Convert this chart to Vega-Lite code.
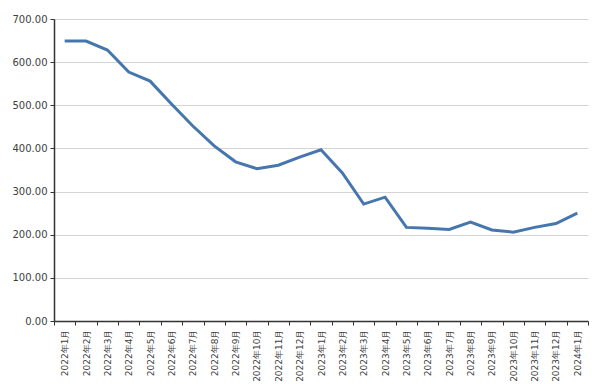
{
  "$schema": "https://vega.github.io/schema/vega-lite/v6.json",
  "autosize": "none",
  "width": 534,
  "height": 302,
  "padding": {"left": 54, "top": 19, "right": 12, "bottom": 70},
  "background": "white",
  "data": {"values": [
    {"m": "2022年1月", "v": 649},
    {"m": "2022年2月", "v": 649},
    {"m": "2022年3月", "v": 628},
    {"m": "2022年4月", "v": 577},
    {"m": "2022年5月", "v": 556},
    {"m": "2022年6月", "v": 503},
    {"m": "2022年7月", "v": 452},
    {"m": "2022年8月", "v": 406},
    {"m": "2022年9月", "v": 369},
    {"m": "2022年10月", "v": 353},
    {"m": "2022年11月", "v": 361},
    {"m": "2022年12月", "v": 380},
    {"m": "2023年1月", "v": 397},
    {"m": "2023年2月", "v": 343},
    {"m": "2023年3月", "v": 271},
    {"m": "2023年4月", "v": 287},
    {"m": "2023年5月", "v": 217},
    {"m": "2023年6月", "v": 215},
    {"m": "2023年7月", "v": 212},
    {"m": "2023年8月", "v": 229},
    {"m": "2023年9月", "v": 211},
    {"m": "2023年10月", "v": 206},
    {"m": "2023年11月", "v": 217},
    {"m": "2023年12月", "v": 226},
    {"m": "2024年1月", "v": 250}
  ]},
  "mark": {"type": "line", "color": "#4676ae", "strokeWidth": 3},
  "encoding": {
    "x": {
      "field": "m", "type": "ordinal", "sort": null,
      "scale": {"type": "band", "paddingInner": 0, "paddingOuter": 0},
      "axis": {
        "title": null, "tickBand": "extent", "labelAngle": 270,
        "labelAlign": "right", "labelBaseline": "middle", "labelPadding": 4,
        "tickSize": 4, "tickColor": "#333", "domainColor": "#333", "domainWidth": 1.5,
        "grid": false, "labelFont": "DejaVu Sans", "labelFontSize": 9, "labelColor": "#404040"
      }
    },
    "y": {
      "field": "v", "type": "quantitative",
      "scale": {"domain": [0, 700], "nice": false},
      "axis": {
        "title": null, "values": [0, 100, 200, 300, 400, 500, 600, 700], "format": ".2f",
        "tickSize": 4, "tickColor": "#333", "domainColor": "#333", "domainWidth": 1.5,
        "labelPadding": 3, "gridColor": "#d4d4d4", "gridWidth": 1,
        "labelFont": "DejaVu Sans", "labelFontSize": 10, "labelColor": "#404040"
      }
    }
  },
  "config": {"view": {"stroke": null}}
}
